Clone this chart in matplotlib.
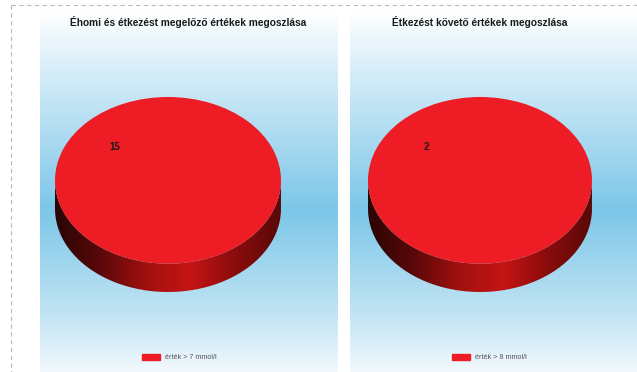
import numpy as np
import matplotlib
matplotlib.use("Agg")
import matplotlib.pyplot as plt
from matplotlib.colors import LinearSegmentedColormap
from matplotlib.path import Path
from matplotlib.patches import PathPatch, Rectangle

plt.rcParams['font.family'] = ['Liberation Sans', 'DejaVu Sans']

# two glucose distributions, one slice each
titles = ["Éhomi és étkezést megelőző értékek megoszlása",
          "Étkezést követő értékek megoszlása"]
legend_labels = ["érték > 7 mmol/l", "érték > 8 mmol/l"]
counts_fasting = [15]
counts_after = [2]

W, H = 637, 372
fig = plt.figure(figsize=(W / 100, H / 100), dpi=100)
fig.patch.set_facecolor('white')

# background layer in pixel coordinates
bg = fig.add_axes([0, 0, 1, 1])
bg.set_xlim(0, W)
bg.set_ylim(H, 0)
bg.axis('off')

sky = LinearSegmentedColormap.from_list(
    'sky', [(0.0, '#ffffff'), (0.08, '#eaf6fc'), (0.55, '#7cc6e8'),
            (0.85, '#c4e5f4'), (1.0, '#f2f9fd')])
grad = np.linspace(0, 1, 256).reshape(-1, 1)
for x0, x1 in [(40, 338), (350, W)]:
    bg.imshow(grad, cmap=sky, aspect='auto', extent=(x0, x1, H, 12),
              interpolation='bicubic', zorder=0)

# dashed frame along top and left
bg.plot([11, W], [5, 5], ls=(0, (4, 3)), color='#b8b8b8', lw=0.8)
bg.plot([11, 11], [5, H], ls=(0, (4, 3)), color='#b8b8b8', lw=0.8)

title_x = [188, 480]
for tx, t in zip(title_x, titles):
    bg.text(tx, 22, t, ha='center', va='center', fontsize=7.3,
            fontweight='bold', color='#1a1a1a')

face_red = '#ee1c24'
for lx, lab in zip([142, 452], legend_labels):
    bg.add_patch(Rectangle((lx, 354), 18, 6, color=face_red, zorder=3))
    bg.text(lx + 23, 357.5, lab, ha='left', va='center', fontsize=5.2,
            color='#555555')

side = LinearSegmentedColormap.from_list(
    'side', ['#2a0505', '#5a0808', '#a01010', '#c41414', '#8a0c0c', '#5a0808'])
depth = 0.34


def draw_pie(rect, counts):
    ax = fig.add_axes(rect)
    total = sum(counts)
    # side wall: lower half of the rim extruded downwards
    th = np.linspace(np.pi, 2 * np.pi, 200)
    verts = np.concatenate([
        np.column_stack([np.cos(th), np.sin(th)]),
        np.column_stack([np.cos(th[::-1]), np.sin(th[::-1]) - depth]),
    ])
    wall = PathPatch(Path(verts, closed=False), facecolor='none', edgecolor='none')
    ax.add_patch(wall)
    img = ax.imshow(np.linspace(0, 1, 256).reshape(1, -1), cmap=side,
                    extent=(-1, 1, -1 - depth, 0), aspect='auto', zorder=1)
    img.set_clip_path(wall)
    wedges, texts, autotexts = ax.pie(
        counts, colors=[face_red], startangle=-40, pctdistance=0.62,
        autopct=lambda p: f"{p * total / 100:.0f}",
        textprops=dict(fontsize=7, fontweight='bold', color='#1a1a1a'),
        wedgeprops=dict(linewidth=0))
    for w in wedges:
        w.set_zorder(2)
    for t in autotexts:
        t.set_zorder(3)
    ax.set_aspect('auto')
    ax.set_xlim(-1, 1)
    ax.set_ylim(-1 - depth, 1)
    ax.axis('off')


# face spans ~226 px wide, 166 px tall, plus ~28 px of wall
draw_pie([55 / W, 1 - 292 / H, 226 / W, 195 / H], counts_fasting)
draw_pie([368 / W, 1 - 292 / H, 224 / W, 195 / H], counts_after)

fig.savefig('out.png', dpi=100)
